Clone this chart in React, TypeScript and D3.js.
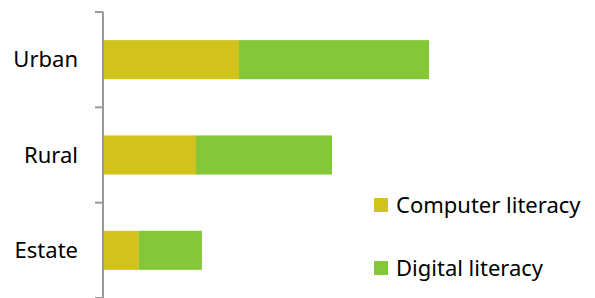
import React from "react";
import * as d3 from "d3";

const categories = ["Urban", "Rural", "Estate"];
const computerLiteracy = [43.6, 29.8, 11.5];
const digitalLiteracy = [60.9, 43.6, 20.2];
const seriesNames = ["Computer literacy", "Digital literacy"];
const seriesColors = ["#D1C21E", "#84C83A"];

const width = 595;
const height = 298;
const font = "'Noto Sans', 'Open Sans', sans-serif";

const App = () => {
  const x = d3.scaleLinear().domain([0, 100]).range([103, 415]);
  const y = d3
    .scaleBand<string>()
    .domain(categories)
    .range([12, 298])
    .paddingInner(0.59)
    .paddingOuter(0.295);

  const rows = categories.map((c, i) => ({
    category: c,
    computer: computerLiteracy[i],
    digital: digitalLiteracy[i],
  }));
  const stack = d3.stack<any>().keys(["computer", "digital"]);
  const layers = stack(rows);

  const step = y.step();
  const tickYs = d3.range(categories.length + 1).map((i) => 12 + i * step);

  return (
    <svg
      width={width}
      height={height}
      style={{ position: "absolute", left: 0, top: 0, background: "#fff" }}
    >
      {layers.map((layer, li) => (
        <g key={li} fill={seriesColors[li]}>
          {layer.map((d, i) => (
            <rect
              key={i}
              x={x(d[0])}
              y={y(categories[i])}
              width={x(d[1]) - x(d[0])}
              height={y.bandwidth()}
            />
          ))}
        </g>
      ))}

      {/* category axis */}
      <line x1={103} x2={103} y1={12} y2={298} stroke="#9a9a9a" strokeWidth={2} />
      {tickYs.map((t, i) => (
        <line key={i} x1={95} x2={103} y1={t} y2={t} stroke="#9a9a9a" strokeWidth={2} />
      ))}
      {categories.map((c) => (
        <text
          key={c}
          x={78}
          y={(y(c) ?? 0) + y.bandwidth() / 2}
          dy="0.35em"
          textAnchor="end"
          fontFamily={font}
          fontSize={22}
          fill="#000"
        >
          {c}
        </text>
      ))}

      {/* legend */}
      {seriesNames.map((name, i) => (
        <g key={name} transform={`translate(374, ${198 + i * 63})`}>
          <rect width={14} height={14} fill={seriesColors[i]} />
          <text x={22} y={7} dy="0.35em" fontFamily={font} fontSize={22} fill="#000">
            {name}
          </text>
        </g>
      ))}
    </svg>
  );
};

export default App;
